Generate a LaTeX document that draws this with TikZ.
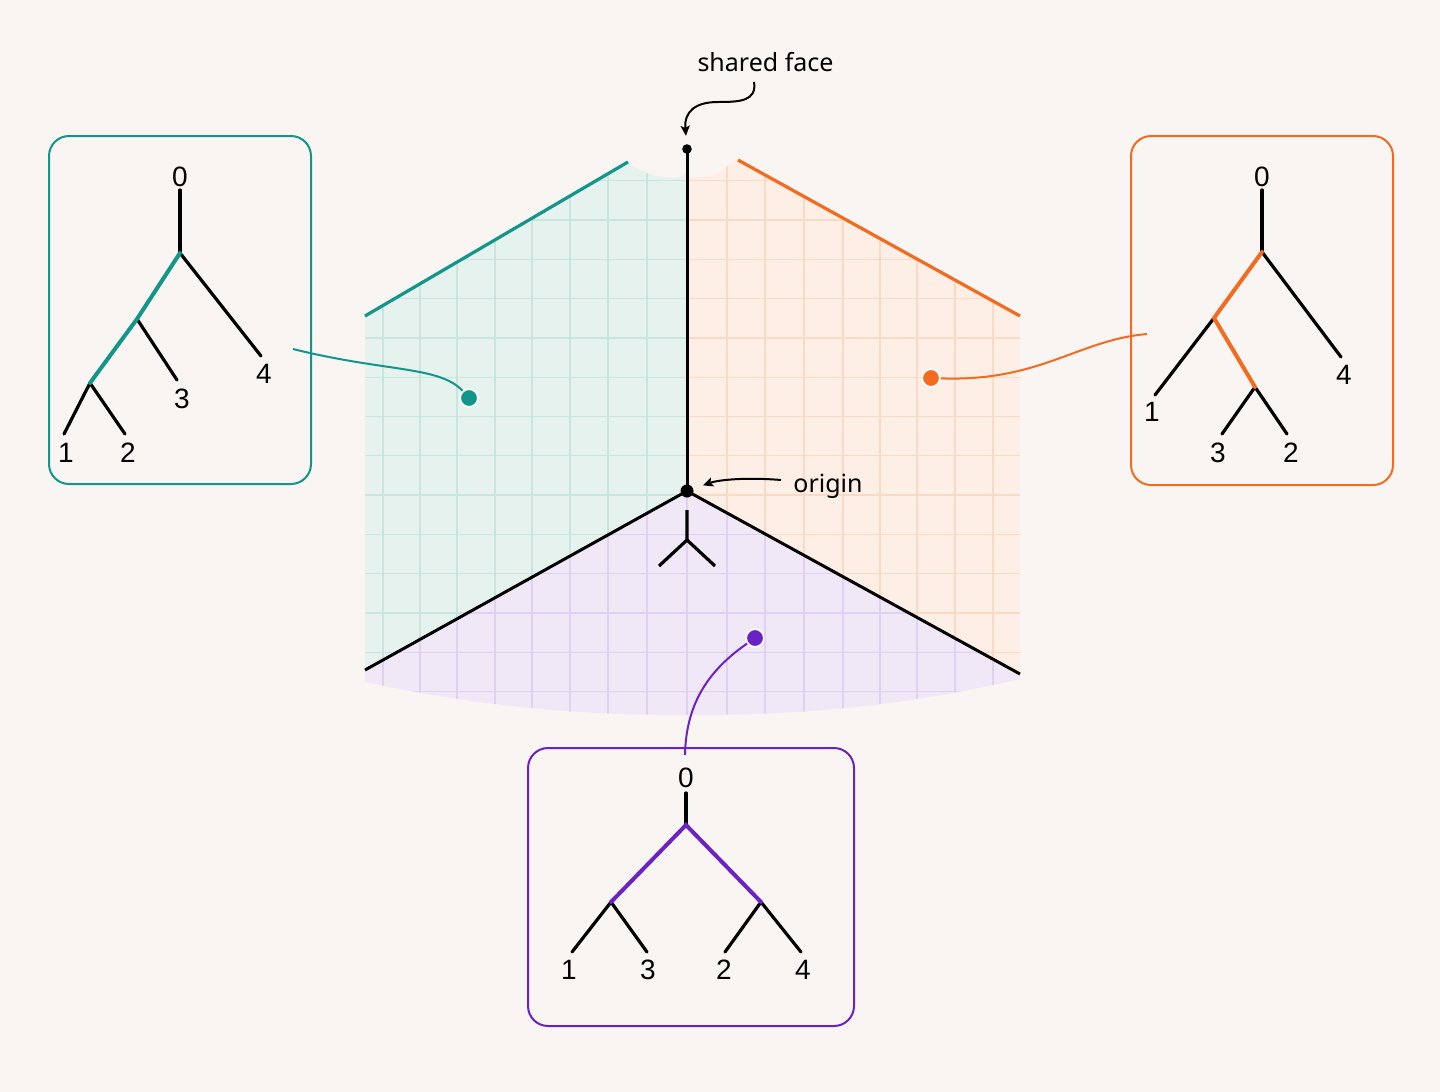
\documentclass[tikz,border=0pt]{standalone}
\usepackage{fontspec}
\setmainfont{Noto Sans}
\newfontfamily\treefont{Liberation Sans}
\usetikzlibrary{arrows.meta}
\definecolor{bgc}{HTML}{F8F5F3}
\definecolor{tealC}{HTML}{12968A}
\definecolor{orangeC}{HTML}{F26B1E}
\definecolor{purpleC}{HTML}{6A22C6}
\definecolor{tealF}{HTML}{E6F2EE}
\definecolor{orangeF}{HTML}{FDEFE5}
\definecolor{purpleF}{HTML}{F0E8F7}
\definecolor{tealG}{HTML}{CAE5DF}
\definecolor{orangeG}{HTML}{F9DAC6}
\definecolor{purpleG}{HTML}{E0D0F2}
\newcommand\drawgridlines[1]{%
  \fill[#1F] (300,100) rectangle (1100,760);
  \foreach \gx in {383,420,457,495,532,570,608,647,687,727,765,804,843,880,917,955,993}
    \draw[gridl,#1G] (\gx,100) -- (\gx,760);
  \foreach \gk in {0,...,13}
    \draw[gridl,#1G] (300,{180.7+39.3*\gk}) -- (1100,{180.7+39.3*\gk});
}
\begin{document}
\begin{tikzpicture}[x=0.5pt,y=-0.5pt,
  lbl/.style={font=\treefont\fontsize{14}{14}\selectfont, inner sep=0pt},
  ann/.style={font=\fontsize{12.5}{15}\selectfont, inner sep=0pt},
  br/.style={line width=1.6pt, black, line cap=round},
  hl/.style={line width=2pt, line cap=round},
  ray/.style={line width=1.5pt, black},
  box/.style={line width=1pt, rounded corners=10pt},
  dotn/.style={circle, inner sep=0pt, minimum size=8.8pt, draw=white, line width=0.8pt},
  conn/.style={line width=1pt},
  gridl/.style={line width=0.65pt},
  annarrow/.style={line width=1pt, black, -{Stealth[length=5pt,width=4.5pt,inset=1pt]}},
]
\fill[bgc] (0,0) rectangle (1440,1092);
\useasboundingbox (0,0) rectangle (1440,1092);

% teal region
\begin{scope}
\clip (687,491) -- (687,173) .. controls (680,181) and (650,180) .. (628,162) -- (365,316) -- (365,670) -- cycle;
\drawgridlines{teal}
\end{scope}
% orange region
\begin{scope}
\clip (687,491) -- (687,176) .. controls (697,178) and (712,178) .. (722,170) .. controls (728,165) and (733,162) .. (738,160) -- (1020,316) -- (1020,674) -- cycle;
\drawgridlines{orange}
\end{scope}
% purple region
\begin{scope}
\clip (687,491) -- (365,670) -- (365,682) .. controls (480,706) and (570,715) .. (687,715) .. controls (810,715) and (900,706) .. (1020,679) -- (1020,674) -- cycle;
\drawgridlines{purple}
\end{scope}

% upper boundary lines
\draw[tealC, line width=1.6pt] (365,316) -- (628,162);
\draw[orangeC, line width=1.6pt] (738,160) -- (1020,316);

% rays
\node[circle, fill=black, inner sep=0pt, minimum size=6.5pt] (O) at (687,491) {};
\node[circle, fill=black, inner sep=0pt, minimum size=4.8pt] (T) at (687,149) {};
\coordinate (L) at (365,670);
\coordinate (R) at (1020,674);
\draw[ray] (O.center) -- (T.center);
\draw[ray] (O.center) -- (L);
\draw[ray] (O.center) -- (R);

% small tree glyph under origin
\coordinate (g0) at (687,510);
\coordinate (g1) at (687,540);
\coordinate (g2) at (659,566);
\coordinate (g3) at (715,566);
\draw[br, line cap=butt] (g0) -- (g1) -- (g2);
\draw[br, line cap=butt] (g1) -- (g3);

% annotations
\node[ann, anchor=base] (sf) at (765.5,71) {shared face};
\coordinate (sfa) at (754,82);
\draw[annarrow, shorten >=4pt] (sfa) .. controls (757,101) and (740,102) .. (718,102) .. controls (696,102) and (684,111) .. (T);
\node[ann, anchor=base west] (orl) at (793,492) {origin};
\coordinate (ora) at (781,480);
\draw[annarrow, shorten >=5pt] (ora) .. controls (745,477) and (718,480) .. (O);

% dots and connectors
\node[dotn, fill=tealC] (td) at (469,398) {};
\node[dotn, fill=orangeC] (od) at (931,378) {};
\node[dotn, fill=purpleC] (pd) at (755,638) {};
\coordinate (tc) at (293,349);
\coordinate (oc) at (1147,334);
\coordinate (pc) at (685,755);
\draw[conn, tealC] (tc) .. controls (385,372) and (440,366) .. (td);
\draw[conn, orangeC] (od) .. controls (1040,382) and (1078,340) .. (oc);
\draw[conn, purpleC] (pd) .. controls (712,668) and (686,700) .. (pc);

% ---- left box ----
\draw[box, tealC] (49,136) rectangle (311,484);
\node[lbl] (l0) at (180,177) {0};
\node[lbl] (l4) at (264,374) {4};
\node[lbl] (l3) at (182,399) {3};
\node[lbl] (l1) at (66,453) {1};
\node[lbl] (l2) at (128,453) {2};
\coordinate (la) at (180,190);
\coordinate (lb) at (180,253);
\coordinate (lc) at (137,319);
\coordinate (ld) at (90,383);
\coordinate (le4) at (261,356);
\coordinate (le3) at (177,380);
\coordinate (le1) at (64,434);
\coordinate (le2) at (125,434);
\draw[br] (la) -- (lb);
\draw[br] (lb) -- (le4);
\draw[br] (lc) -- (le3);
\draw[br] (ld) -- (le1);
\draw[br] (ld) -- (le2);
\draw[hl, tealC] (lb) -- (lc) -- (ld);

% ---- right box ----
\draw[box, orangeC] (1131,136) rectangle (1393,485);
\node[lbl] (r0) at (1262,177) {0};
\node[lbl] (r4) at (1344,375) {4};
\node[lbl] (r1) at (1152,412) {1};
\node[lbl] (r3) at (1218,453) {3};
\node[lbl] (r2) at (1291,453) {2};
\coordinate (ra) at (1262,190);
\coordinate (rb) at (1262,252);
\coordinate (rc) at (1214,318);
\coordinate (rd) at (1255,387);
\coordinate (re4) at (1341,357);
\coordinate (re1) at (1155,395);
\coordinate (re3) at (1222,434);
\coordinate (re2) at (1287,434);
\draw[br] (ra) -- (rb);
\draw[br] (rb) -- (re4);
\draw[br] (rc) -- (re1);
\draw[br] (rd) -- (re3);
\draw[br] (rd) -- (re2);
\draw[hl, orangeC] (rb) -- (rc) -- (rd);

% ---- bottom box ----
\draw[box, purpleC] (528,748) rectangle (854,1026);
\node[lbl] (b0) at (686,778) {0};
\node[lbl] (b1) at (569,970) {1};
\node[lbl] (b3) at (648,970) {3};
\node[lbl] (b2) at (724,970) {2};
\node[lbl] (b4) at (803,970) {4};
\coordinate (ba) at (686,793);
\coordinate (bb) at (686,825);
\coordinate (bl) at (611,902);
\coordinate (br) at (761,902);
\coordinate (be1) at (572,952);
\coordinate (be3) at (647,952);
\coordinate (be2) at (725,952);
\coordinate (be4) at (801,952);
\draw[br] (ba) -- (bb);
\draw[br] (bl) -- (be1);
\draw[br] (bl) -- (be3);
\draw[br] (br) -- (be2);
\draw[br] (br) -- (be4);
\draw[hl, purpleC] (bl) -- (bb) -- (br);
\end{tikzpicture}
\end{document}
